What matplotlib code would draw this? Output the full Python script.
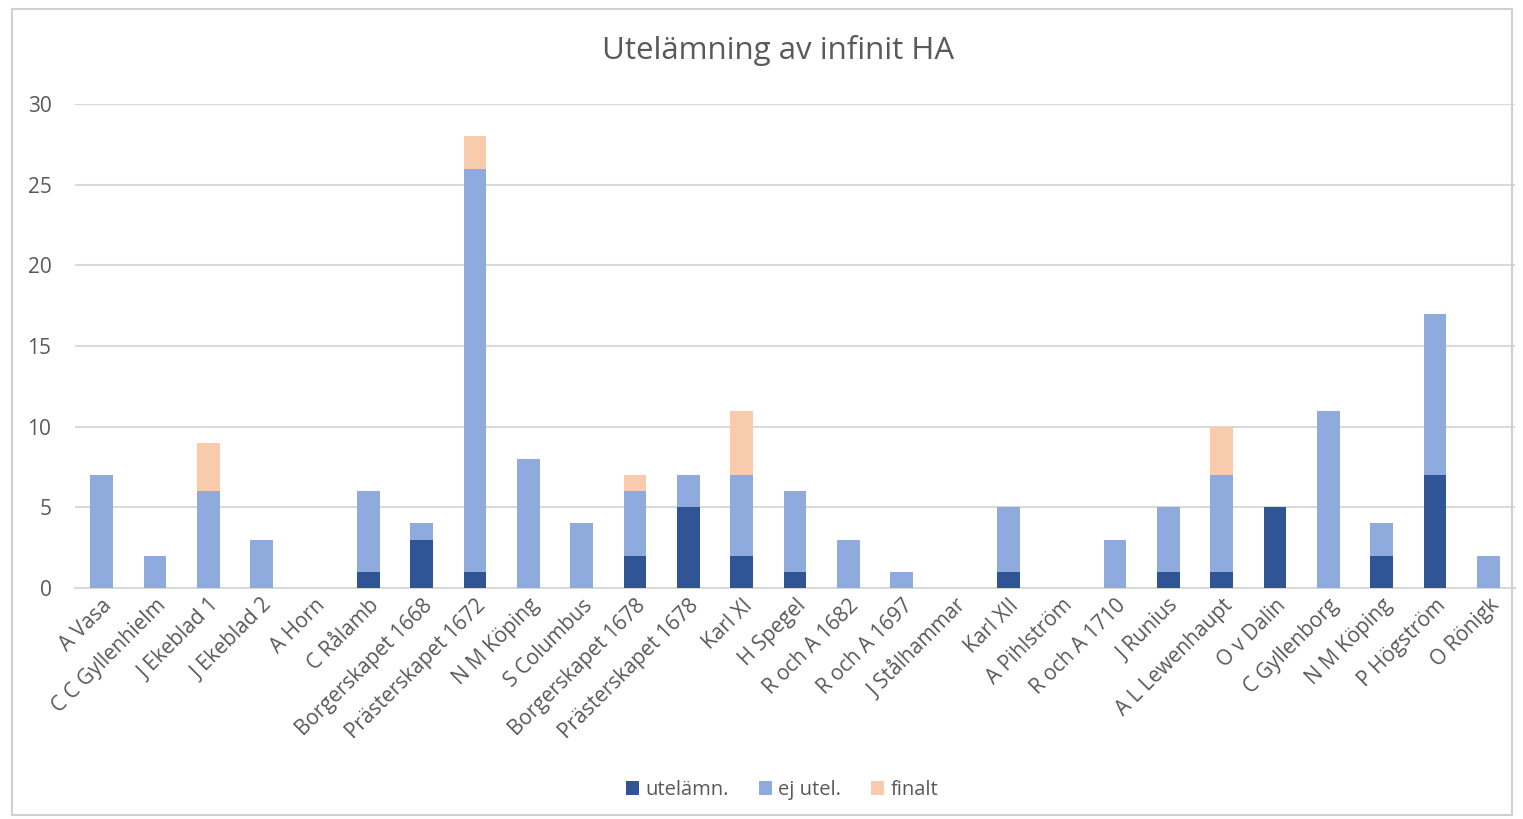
import matplotlib
matplotlib.use("Agg")
import matplotlib.pyplot as plt
import numpy as np
from matplotlib.patches import Rectangle

plt.rcParams['font.family'] = ['Open Sans', 'DejaVu Sans']

categories = ["A Vasa", "C C Gyllenhielm", "J Ekeblad 1", "J Ekeblad 2", "A Horn",
              "C Rålamb", "Borgerskapet 1668", "Prästerskapet 1672", "N M Köping",
              "S Columbus", "Borgerskapet 1678", "Prästerskapet 1678", "Karl XI",
              "H Spegel", "R och A 1682", "R och A 1697", "J Stålhammar", "Karl XII",
              "A Pihlström", "R och A 1710", "J Runius", "A L Lewenhaupt", "O v Dalin",
              "C Gyllenborg", "N M Köping", "P Högström", "O Rönigk"]
utelamn = [0, 0, 0, 0, 0, 1, 3, 1, 0, 0, 2, 5, 2, 1, 0, 0, 0, 1, 0, 0, 1, 1, 5, 0, 2, 7, 0]
ej_utel = [7, 2, 6, 3, 0, 5, 1, 25, 8, 4, 4, 2, 5, 5, 3, 1, 0, 4, 0, 3, 4, 6, 0, 11, 2, 10, 2]
finalt = [0, 0, 3, 0, 0, 0, 0, 2, 0, 0, 1, 0, 4, 0, 0, 0, 0, 0, 0, 0, 0, 3, 0, 0, 0, 0, 0]

c_dark = "#2F5597"
c_light = "#8FAADC"
c_peach = "#F8CBAD"
txt = "#595959"

fig = plt.figure(figsize=(15.23, 8.19), dpi=100)
fig.patches.append(Rectangle((12/1523, 1 - 815/819), 1500/1523, 806/819,
                             transform=fig.transFigure, fill=False,
                             edgecolor="#D0D0D0", linewidth=1.5))
ax = fig.add_axes([75/1523, 1 - 588/819, 1440/1523, 484/819])

x = np.arange(len(categories))
u = np.array(utelamn)
e = np.array(ej_utel)
f = np.array(finalt)
w = 0.42
ax.bar(x, u, w, color=c_dark, label="utelämn.", zorder=3)
ax.bar(x, e, w, bottom=u, color=c_light, label="ej utel.", zorder=3)
ax.bar(x, f, w, bottom=u + e, color=c_peach, label="finalt", zorder=3)

ax.set_xlim(-0.5, len(categories) - 0.5)
ax.set_ylim(0, 30)
ax.set_yticks(range(0, 31, 5))
ax.yaxis.grid(True, color="#D9D9D9", linewidth=1.5, zorder=0)
for s in ["top", "right", "left"]:
    ax.spines[s].set_visible(False)
ax.spines["bottom"].set_color("#D9D9D9")
ax.spines["bottom"].set_linewidth(1.5)
ax.tick_params(axis="both", length=0, colors=txt, labelsize=15)
ax.tick_params(axis="y", pad=17)
ax.tick_params(axis="x", pad=5)
ax.set_xticks(x)
ax.set_xticklabels(categories, rotation=45, ha="right", rotation_mode="anchor", color=txt)

fig.text(778/1523, 1 - 50/819, "Utelämning av infinit HA", ha="center", va="center",
         fontsize=22.5, color=txt)

fig.legend(loc="center", bbox_to_anchor=(782/1523, 1 - 790/819), ncol=3, frameon=False,
           fontsize=14.5, handlelength=0.65, handleheight=0.65, handletextpad=0.3,
           columnspacing=1.5, labelcolor=txt)

fig.savefig("out.png", dpi=100)
